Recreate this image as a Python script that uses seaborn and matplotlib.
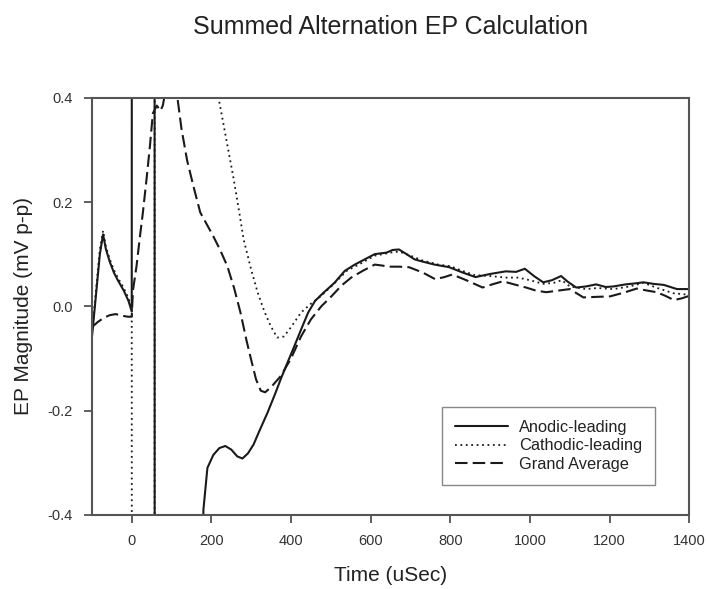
import matplotlib
matplotlib.use('Agg')
import matplotlib.pyplot as plt
import seaborn as sns
import pandas as pd
from matplotlib.ticker import FormatStrFormatter

# Anodic-leading (solid)
anodic_x = [-100, -90, -80, -72, -65, -55, -45, -35, -20, -8, 0, 1, 57, 58, 168, 172, 180, 190, 205, 220, 235, 250,
            265, 278, 292, 306, 320, 341, 360, 374, 390, 408, 425, 443, 460, 480, 509, 535, 560, 585, 610, 640,
            655, 671, 690, 710, 729, 760, 797, 830, 863, 900, 939, 965, 987, 1010, 1033, 1055, 1078, 1095, 1116,
            1140, 1166, 1190, 1209, 1240, 1265, 1285, 1310, 1336, 1369, 1400]
anodic_y = [-0.06, 0.02, 0.10, 0.138, 0.11, 0.085, 0.065, 0.05, 0.03, 0.01, -0.01, 3.0, 3.0, -3.0, -3.0, -0.8, -0.39,
            -0.31, -0.285, -0.272, -0.268, -0.275, -0.288, -0.292, -0.282, -0.265, -0.24, -0.204, -0.168, -0.14,
            -0.11, -0.077, -0.045, -0.012, 0.01, 0.025, 0.045, 0.068, 0.08, 0.09, 0.1, 0.103, 0.108, 0.109, 0.1,
            0.09, 0.086, 0.08, 0.075, 0.065, 0.056, 0.062, 0.067, 0.066, 0.072, 0.058, 0.046, 0.05, 0.058, 0.047,
            0.036, 0.038, 0.042, 0.037, 0.038, 0.042, 0.044, 0.046, 0.043, 0.041, 0.033, 0.033]

# Cathodic-leading (dotted)
cathodic_x = [-100, -90, -80, -72, -65, -55, -45, -35, -20, -8, 0, 1, 57, 58, 205, 218, 235, 256, 270, 281, 300,
              316, 333, 349, 365, 382, 400, 425, 450, 476, 510, 540, 570, 610, 650, 671, 700, 730, 770, 800, 830,
              860, 900, 940, 970, 1000, 1033, 1060, 1080, 1100, 1140, 1170, 1210, 1250, 1285, 1320, 1360, 1400]
cathodic_y = [-0.055, 0.03, 0.11, 0.145, 0.115, 0.09, 0.07, 0.055, 0.035, 0.015, -0.005, -3.0, -3.0, 3.0, 1.0, 0.4,
              0.33, 0.244, 0.18, 0.128, 0.07, 0.027, -0.01, -0.038, -0.06, -0.058, -0.04, -0.012, 0.005, 0.02,
              0.045, 0.068, 0.08, 0.097, 0.103, 0.105, 0.097, 0.088, 0.08, 0.077, 0.068, 0.06, 0.058, 0.055, 0.055,
              0.05, 0.043, 0.045, 0.05, 0.038, 0.033, 0.035, 0.033, 0.038, 0.045, 0.035, 0.025, 0.022]

# Grand Average (dashed)
grand_x = [-100, -85, -70, -55, -40, -25, -10, 0, 3, 12, 20, 28, 38, 46, 53, 63, 72, 78, 84, 95, 105, 113, 125,
           139, 155, 172, 190, 205, 222, 240, 257, 273, 288, 299, 312, 324, 335, 350, 374, 400, 425, 450, 476, 500,
           527, 551, 580, 610, 630, 644, 670, 696, 730, 762, 785, 805, 840, 881, 905, 932, 960, 990, 1015, 1041,
           1070, 1100, 1134, 1165, 1201, 1235, 1268, 1295, 1318, 1340, 1361, 1380, 1400]
grand_y = [-0.04, -0.03, -0.022, -0.017, -0.015, -0.018, -0.02, -0.02, 0.03, 0.077, 0.13, 0.18, 0.25, 0.31, 0.37,
           0.385, 0.375, 0.385, 0.41, 0.45, 0.45, 0.41, 0.34, 0.28, 0.23, 0.18, 0.155, 0.134, 0.108, 0.077, 0.035,
           -0.012, -0.065, -0.1, -0.14, -0.162, -0.165, -0.155, -0.134, -0.1, -0.058, -0.025, 0.0, 0.018, 0.04,
           0.055, 0.068, 0.08, 0.078, 0.076, 0.076, 0.075, 0.065, 0.052, 0.056, 0.061, 0.05, 0.036, 0.042, 0.048,
           0.042, 0.036, 0.03, 0.027, 0.03, 0.033, 0.017, 0.018, 0.019, 0.026, 0.034, 0.03, 0.027, 0.02, 0.012,
           0.015, 0.02]

x_ticks = [0, 200, 400, 600, 800, 1000, 1200, 1400]
y_ticks = [-0.4, -0.2, 0.0, 0.2, 0.4]

sns.set_style('ticks')
plt.rcParams['font.family'] = ['Liberation Sans', 'DejaVu Sans']

fig = plt.figure(figsize=(7.07, 5.89), dpi=100)
ax = fig.add_axes([0.130, 0.126, 0.845, 0.708])

line_col = '#1a1a1a'
sns.lineplot(x=anodic_x, y=anodic_y, ax=ax, sort=False, estimator=None, color=line_col,
             linewidth=1.5, label='Anodic-leading')
sns.lineplot(x=cathodic_x, y=cathodic_y, ax=ax, sort=False, estimator=None, color=line_col,
             linewidth=1.3, linestyle=(0, (1, 2)), label='Cathodic-leading')
sns.lineplot(x=grand_x, y=grand_y, ax=ax, sort=False, estimator=None, color=line_col,
             linewidth=1.5, linestyle=(0, (6, 2.5)), label='Grand Average')

ax.set_xlim(-100, 1400)
ax.set_ylim(-0.4, 0.4)
ax.set_xticks(x_ticks)
ax.set_yticks(y_ticks)
ax.yaxis.set_major_formatter(FormatStrFormatter('%.1f'))
ax.tick_params(axis='both', direction='out', length=6, width=1.2, color='#444',
               labelsize=10.5, labelcolor='#333', pad=8)

for sp in ax.spines.values():
    sp.set_visible(True)
    sp.set_color('#555')
    sp.set_linewidth(1.5)

ax.set_xlabel('Time (uSec)', fontsize=15, color='#222', labelpad=13)
ax.set_ylabel('EP Magnitude (mV p-p)', fontsize=15, color='#222', labelpad=10)
fig.suptitle('Summed Alternation EP Calculation', fontsize=18, color='#222', x=0.552, y=0.975)

leg = ax.legend(loc='lower right', bbox_to_anchor=(0.943, 0.072), borderaxespad=0, fancybox=False,
                framealpha=1, edgecolor='#888', fontsize=11.8, handlelength=3.2, labelspacing=0.2,
                borderpad=0.8, handletextpad=0.7)
leg.get_frame().set_linewidth(1.0)
for t in leg.get_texts():
    t.set_color('#222')

fig.savefig('out.png', dpi=100)
